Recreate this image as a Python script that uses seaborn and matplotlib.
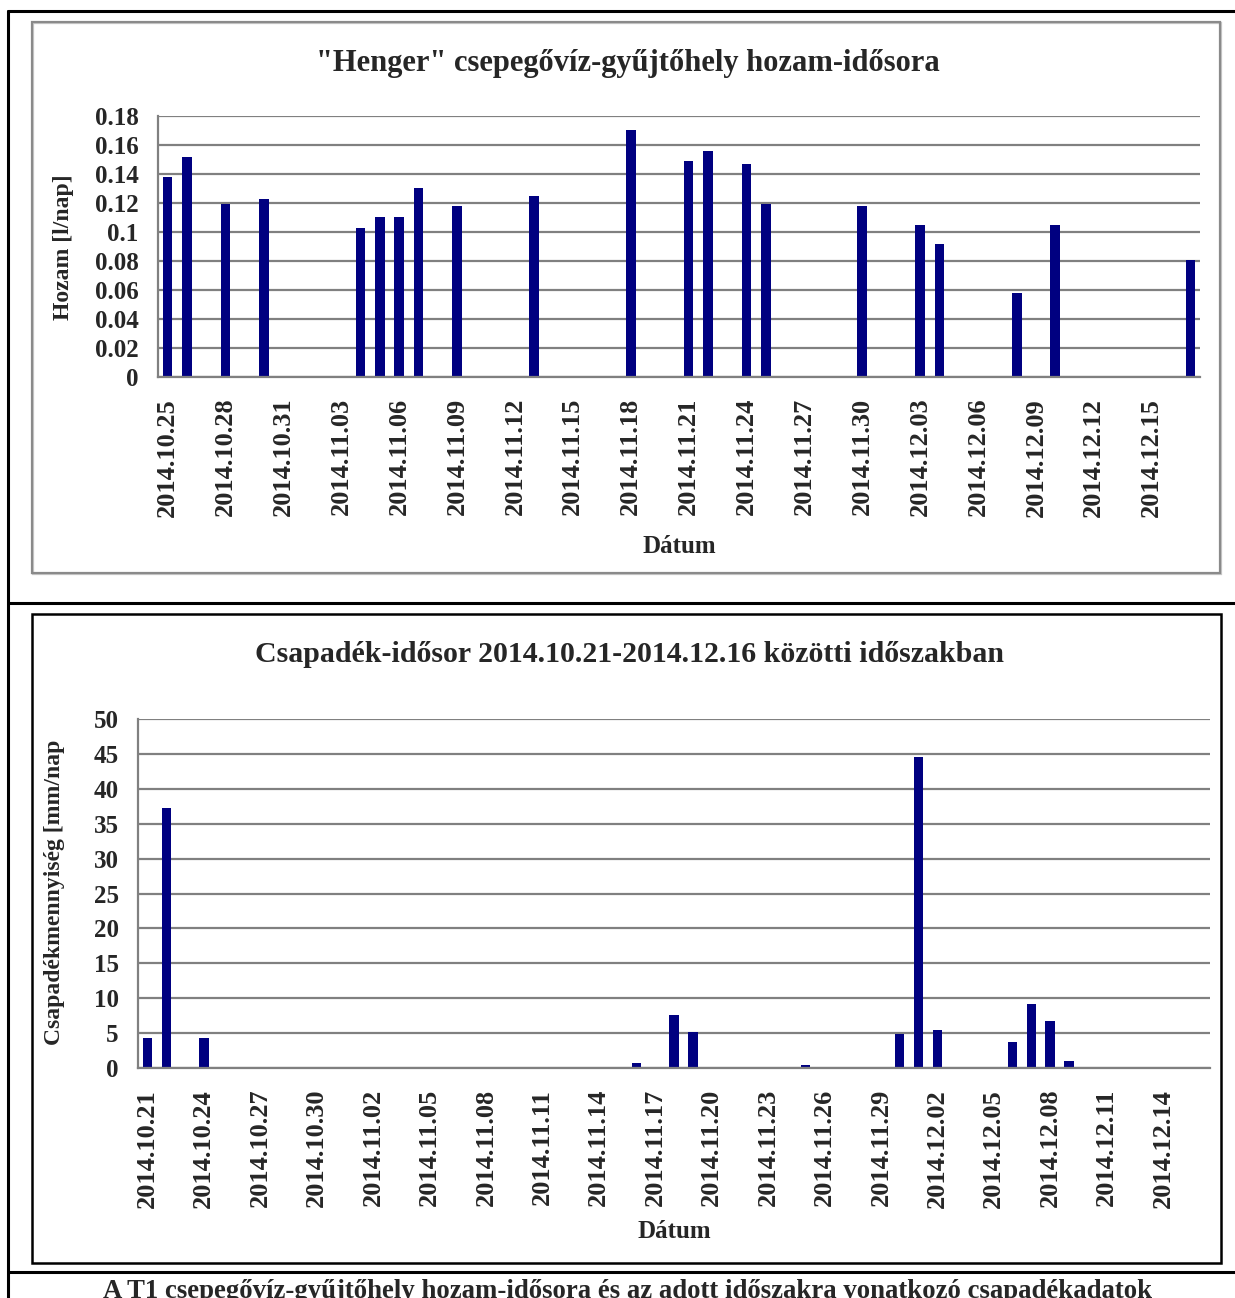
import numpy as np
import pandas as pd
import matplotlib
matplotlib.use("Agg")
import matplotlib.pyplot as plt
from matplotlib.patches import Rectangle
from matplotlib.lines import Line2D
import seaborn as sns

# ---------------- data ----------------
flow_start = "2014-10-25"
flow_end = "2014-12-17"
flow_dates = ["2014.10.25", "2014.10.26", "2014.10.28", "2014.10.30", "2014.11.04",
              "2014.11.05", "2014.11.06", "2014.11.07", "2014.11.09", "2014.11.13",
              "2014.11.18", "2014.11.21", "2014.11.22", "2014.11.24", "2014.11.25",
              "2014.11.30", "2014.12.03", "2014.12.04", "2014.12.08", "2014.12.10",
              "2014.12.17"]
flow_values = [0.138, 0.152, 0.119, 0.123, 0.103,
               0.110, 0.110, 0.130, 0.118, 0.125,
               0.170, 0.149, 0.156, 0.147, 0.119,
               0.118, 0.105, 0.092, 0.058, 0.105,
               0.081]

rain_start = "2014-10-21"
rain_end = "2014-12-16"
rain_dates = ["2014.10.21", "2014.10.22", "2014.10.24", "2014.11.08", "2014.11.16",
              "2014.11.18", "2014.11.19", "2014.11.25", "2014.11.28", "2014.11.30",
              "2014.12.01", "2014.12.02", "2014.12.06", "2014.12.07", "2014.12.08",
              "2014.12.09"]
rain_values = [4.3, 37.3, 4.3, 0.2, 0.75,
               7.55, 5.15, 0.47, 0.2, 4.9,
               44.6, 5.4, 3.75, 9.1, 6.7,
               1.05]

flow_title = '"Henger" csepegővíz-gyűjtőhely hozam-idősora'
rain_title = "Csapadék-idősor 2014.10.21-2014.12.16 közötti időszakban"
flow_ylabel = "Hozam [l/nap]"
rain_ylabel = "Csapadékmennyiség [mm/nap"
xlabel = "Dátum"
caption = "A T1 csepegővíz-gyűjtőhely hozam-idősora és az adott időszakra vonatkozó csapadékadatok"

# ---------------- style ----------------
sns.set_style("white")
plt.rcParams["font.family"] = ["Liberation Serif", "DejaVu Serif"]
plt.rcParams["font.weight"] = "bold"

W, H = 1235, 1298
fig = plt.figure(figsize=(W / 100, H / 100), dpi=100)

def fx(px):
    return px / W

def fy(py):
    return 1 - py / H

def ax_rect(l, t, r, b):
    return [fx(l), fy(b), fx(r) - fx(l), (b - t) / H]

BAR = "#000080"
GRID = "#808080"

def make_chart(rect, start, end, dates, values, ymax, ystep, yfmt):
    cats = [d.strftime("%Y.%m.%d") for d in pd.date_range(start, end, freq="D")]
    df = pd.DataFrame({"date": dates, "value": values})
    ax = fig.add_axes(rect)
    sns.barplot(data=df, x="date", y="value", order=cats, color=BAR,
                width=0.5, saturation=1, ax=ax, linewidth=0)
    n = len(cats)
    ax.set_xlim(-0.5, n - 0.5)
    ax.set_ylim(0, ymax)
    yt = np.arange(0, ymax + ystep / 2, ystep)
    ax.set_yticks(yt)
    ax.set_yticklabels([yfmt(v) for v in yt], fontsize=18, fontweight="bold")
    lab_idx = np.arange(0, n, 3)
    ax.set_xticks(lab_idx)
    ax.set_xticklabels([cats[i] for i in lab_idx], rotation=90, fontsize=19,
                       fontweight="bold")
    ax.set_xticks(np.arange(-0.5, n, 3), minor=True)
    ax.tick_params(axis="x", which="major", length=0, pad=15)
    ax.tick_params(axis="x", which="minor", length=6, width=1.4, color=GRID,
                   direction="out")
    ax.tick_params(axis="y", length=6, width=1.4, color=GRID, direction="out",
                   pad=8)
    ax.yaxis.grid(True, color=GRID, linewidth=1.6)
    ax.xaxis.grid(False)
    ax.set_axisbelow(True)
    for s in ["top", "right"]:
        ax.spines[s].set_visible(False)
    for s in ["left", "bottom"]:
        ax.spines[s].set_color(GRID)
        ax.spines[s].set_linewidth(1.6)
    ax.set_xlabel("")
    ax.set_ylabel("")
    ax.set_facecolor("none")
    return ax

ax1 = make_chart(ax_rect(158, 116, 1200, 377), flow_start, flow_end,
                 flow_dates, flow_values, 0.18, 0.02, lambda v: f"{round(v, 2):g}")
ax2 = make_chart(ax_rect(138, 719, 1210, 1068), rain_start, rain_end,
                 rain_dates, rain_values, 50, 5, lambda v: f"{v:g}")

# titles and axis labels
fig.text(fx(628), fy(63), flow_title, ha="center", va="center", fontsize=22,
         fontweight="bold")
fig.text(fx(629), fy(655), rain_title, ha="center", va="center", fontsize=21.5,
         fontweight="bold")
fig.text(fx(679), fy(547), xlabel, ha="center", va="center", fontsize=18,
         fontweight="bold")
fig.text(fx(674), fy(1232), xlabel, ha="center", va="center", fontsize=18,
         fontweight="bold")
fig.text(fx(63), fy(247), flow_ylabel, ha="center", va="center", rotation=90,
         fontsize=17, fontweight="bold")
fig.text(fx(55), fy(892), rain_ylabel, ha="center", va="center", rotation=90,
         fontsize=17, fontweight="bold")
fig.text(fx(628), fy(1279), caption, ha="center", va="top", fontsize=19.3,
         fontweight="bold")

# frames
def box(l, t, r, b, color, lw):
    fig.patches.append(Rectangle((fx(l), fy(b)), fx(r) - fx(l), (b - t) / H,
                                 transform=fig.transFigure, fill=False,
                                 edgecolor=color, linewidth=lw))

def hline(y, x0, x1, color="black", lw=2.2):
    fig.lines.append(Line2D([fx(x0), fx(x1)], [fy(y), fy(y)],
                            transform=fig.transFigure, color=color, linewidth=lw))

def vline(x, y0, y1, color="black", lw=2.2):
    fig.lines.append(Line2D([fx(x), fx(x)], [fy(y0), fy(y1)],
                            transform=fig.transFigure, color=color, linewidth=lw))

box(33, 23, 1221, 574, "#c8c8c8", 1.6)
box(32, 22, 1220, 573, "#8a8a8a", 1.6)
box(32, 614, 1221, 1263, "black", 1.8)
hline(11, 8, 1235)
hline(603, 8, 1235)
hline(1272, 8, 1235)
vline(8, 11, 1298)

fig.savefig("out.png", dpi=100, facecolor="white")
